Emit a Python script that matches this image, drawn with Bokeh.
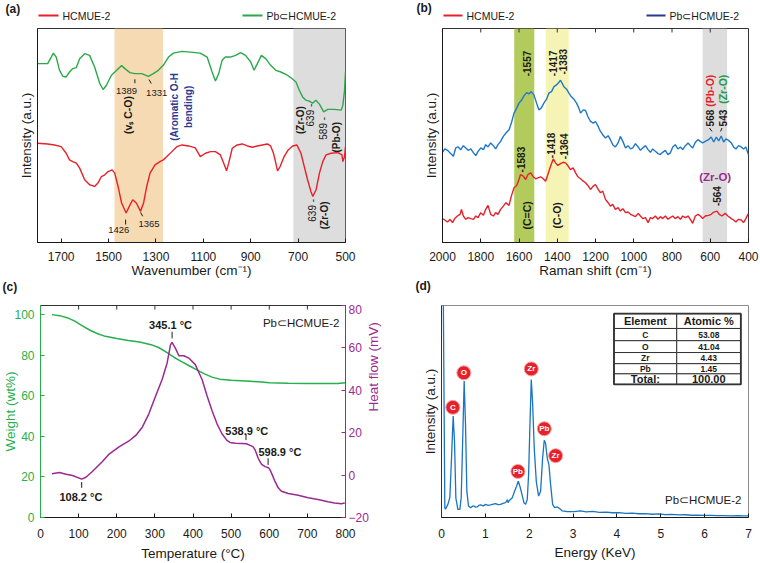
import math
import numpy as np
from bokeh.plotting import figure
from bokeh.layouts import column, row
from bokeh.models import (Range1d, LinearAxis, FixedTicker, Label, BoxAnnotation)
from bokeh.embed import file_html
from bokeh.resources import INLINE

FONT = "Liberation Sans"
INK = "#1a1a1a"
RED = "#e8202a"
GREEN_A = "#2ba84a"
GREEN_T = "#25b04c"
BLUE = "#1f78c8"
NAVY = "#2b3990"
PURPLE = "#9b2a90"
EDX_BLUE = "#1a74c2"
ZRO_GREEN = "#1a9a4a"

# ---------------------------------------------------------------- data
series_names = ["HCMUE-2", "Pb⊂HCMUE-2"]
panel_tags = ["(a)", "(b)", "(c)", "(d)"]

# (a) FTIR  (wavenumber, relative intensity)
ftir_hcmue = [(1800, 99.7), (1757, 99), (1728, 98), (1700, 96.3), (1679, 89.7), (1665, 83),
              (1651, 81.3), (1636, 79.7), (1622, 74.7), (1601, 63), (1580, 58), (1559, 56.3),
              (1545, 59.7), (1530, 66.3), (1516, 68), (1502, 71.3), (1485, 73), (1474, 69.7),
              (1460, 56.3), (1445, 39.7), (1426, 29.7), (1412, 36.5), (1398, 43), (1383, 39.7),
              (1365, 31.3), (1352, 40), (1339, 56.3), (1325, 69.7), (1304, 78), (1283, 81.3),
              (1269, 83), (1254, 86.3), (1233, 91.3), (1212, 96.3), (1190, 98), (1162, 97),
              (1134, 95), (1113, 86.3), (1091, 89.7), (1070, 91.3), (1049, 91.3), (1028, 88),
              (1014, 79.7), (1002, 72), (993, 79.7), (978, 94.7), (957, 98), (936, 99), (914, 97),
              (893, 95.7), (872, 97), (851, 98), (830, 99), (816, 97), (804, 89.7), (794, 79.7),
              (787, 72), (776, 76.3), (759, 86.3), (742, 93), (723, 97), (705, 98), (688, 89.7),
              (674, 76.3), (660, 63), (646, 51.3), (638, 46.3), (624, 53), (610, 69.7), (596, 81.3),
              (582, 88), (561, 89.7), (532, 90.3), (515, 88), (511, 81.3), (504, 86.3), (500, 96.3)]
ftir_pb = [(1800, 179.7), (1757, 179.7), (1742, 186.3), (1733, 190.3), (1721, 186.3), (1707, 173),
           (1693, 167), (1679, 166.3), (1665, 171.3), (1651, 174.7), (1636, 175.7), (1622, 184.7),
           (1601, 189.7), (1580, 188), (1559, 176.3), (1537, 159.7), (1523, 153.7), (1509, 158),
           (1488, 168), (1466, 173), (1445, 177.7), (1431, 174.7), (1410, 170.7), (1389, 169.7),
           (1360, 169.7), (1332, 167), (1311, 169.7), (1290, 173), (1269, 178), (1247, 186.3),
           (1226, 190.3), (1190, 192), (1155, 191.3), (1113, 190.3), (1084, 186.3), (1063, 171.3),
           (1049, 162.3), (1035, 169.7), (1021, 183), (1007, 186.3), (985, 186.3), (964, 188),
           (943, 190.7), (922, 188), (900, 181.3), (886, 173), (872, 179.7), (855, 188),
           (837, 184.7), (816, 178), (794, 173), (773, 171.3), (752, 169), (731, 165.7),
           (709, 161.3), (695, 153), (681, 146.3), (667, 143), (653, 142), (639, 140), (625, 143),
           (610, 139), (592, 131.3), (575, 133.7), (547, 133.7), (518, 133), (511, 138),
           (504, 153), (500, 171.3)]
ftir_bands = [(1475, 1270), (720, 500)]
ftir_ticks = [1700, 1500, 1300, 1100, 900, 700, 500]

# (b) Raman
raman_hcmue = [(2000, 24), (1988, 22.6), (1974, 20.6), (1960, 23.3), (1948, 20), (1936, 24),
               (1922, 26.6), (1908, 28.3), (1901, 33.3), (1891, 26.6), (1878, 23.3), (1866, 25),
               (1852, 24), (1838, 23.3), (1826, 26.6), (1814, 25), (1800, 30), (1786, 27.3),
               (1774, 33.3), (1762, 37.3), (1748, 28.3), (1734, 26.6), (1722, 30), (1710, 28.3),
               (1696, 33.3), (1682, 36.6), (1668, 40), (1652, 37.3), (1640, 46.6), (1626, 55),
               (1612, 57.3), (1600, 63.3), (1592, 68.3), (1578, 66.6), (1565, 63.3), (1553, 68.3),
               (1539, 70), (1525, 66), (1513, 64), (1501, 65), (1487, 66), (1473, 64),
               (1461, 61.6), (1449, 68.3), (1435, 76.6), (1421, 84), (1409, 80), (1397, 77.3),
               (1383, 79.3), (1369, 80.6), (1357, 80), (1345, 77.3), (1331, 73.3), (1317, 75),
               (1304, 70), (1292, 66), (1278, 64), (1264, 61.6), (1252, 60), (1240, 57.3),
               (1226, 53.3), (1212, 56.6), (1200, 58.3), (1186, 53.3), (1174, 50), (1162, 51.6),
               (1148, 43.3), (1134, 40), (1122, 36.6), (1110, 38.3), (1096, 33.3), (1082, 35),
               (1070, 31.6), (1057, 34), (1043, 30), (1030, 30.6), (1017, 28.3), (1005, 27.3),
               (991, 26), (977, 29.3), (965, 26.6), (953, 24), (939, 25), (925, 20), (913, 25),
               (901, 24), (887, 26.6), (873, 23.3), (861, 26), (849, 24), (835, 26.6), (821, 23.3),
               (809, 25), (796, 26.6), (783, 24), (769, 26), (756, 23.3), (744, 26.6), (730, 25),
               (716, 26.6), (704, 23.3), (692, 19.3), (678, 26.6), (664, 28.3), (652, 26.6),
               (640, 24), (626, 26.6), (609, 27.3), (595, 28.3), (581, 30.6), (565, 31.6),
               (553, 28.3), (539, 26.6), (522, 29.3), (508, 26.6), (490, 24), (478, 22.6),
               (466, 20.6), (452, 23.3), (438, 22.6), (426, 20), (414, 24), (403, 28.3), (400, 29)]
raman_pb = [(2000, 90.6), (1988, 94), (1974, 92.6), (1960, 90), (1943, 86.6), (1931, 95),
            (1918, 96), (1904, 93.3), (1891, 97.3), (1878, 95), (1866, 92.6), (1852, 94),
            (1838, 90), (1826, 87.3), (1814, 91.6), (1800, 95), (1786, 93.3), (1774, 98.3),
            (1762, 96), (1748, 100), (1734, 97.3), (1722, 94), (1710, 98.3), (1696, 101.6),
            (1682, 106.6), (1668, 110), (1652, 113.3), (1640, 120), (1626, 130), (1612, 135),
            (1600, 140), (1588, 142.6), (1574, 147.3), (1560, 150.6), (1548, 149.3), (1536, 151.6),
            (1522, 148.3), (1508, 140), (1496, 133.3), (1484, 135), (1470, 140), (1456, 144),
            (1444, 150), (1430, 151.6), (1417, 156.6), (1404, 158.3), (1391, 161), (1383, 163),
            (1365, 156.6), (1351, 154), (1339, 150), (1327, 146.6), (1313, 144), (1299, 140),
            (1287, 135), (1278, 130), (1264, 133.3), (1252, 132.6), (1240, 126.6), (1226, 121.6),
            (1212, 120), (1200, 121.6), (1186, 116.6), (1174, 111.6), (1162, 108.3), (1148, 105),
            (1134, 107.3), (1122, 103.3), (1110, 98.3), (1096, 96), (1082, 100), (1070, 106.6),
            (1057, 101.6), (1043, 95), (1030, 97.3), (1017, 94), (1005, 95), (991, 99.3),
            (977, 96), (965, 92.6), (953, 95), (939, 97.3), (925, 93.3), (913, 90.6), (901, 94),
            (887, 91.6), (873, 89.3), (861, 88.3), (849, 90.6), (835, 92.6), (821, 88.3),
            (809, 90), (796, 96), (783, 98.3), (769, 94), (756, 96), (744, 93.3), (730, 97.3),
            (716, 100), (704, 97.3), (692, 95), (678, 100.6), (664, 103.3), (652, 101.6),
            (640, 100), (626, 101.6), (609, 103.3), (595, 106), (582, 101), (568, 106),
            (556, 102), (543, 107), (530, 101), (518, 104), (504, 102.6), (490, 100), (478, 96),
            (466, 94), (452, 97.3), (438, 96), (426, 94), (414, 96), (403, 90), (400, 88)]
raman_bands = [(1625, 1520), (1460, 1340), (640, 512)]
raman_ticks = [2000, 1800, 1600, 1400, 1200, 1000, 800, 600, 400]

# (c) TGA / DSC
tga_weight = [(30, 100), (50, 99.5), (70, 98.5), (90, 96.8), (110, 94.5), (130, 92.3),
              (150, 90.6), (170, 89.3), (200, 88.2), (230, 87.3), (260, 86.5), (290, 85.2),
              (310, 83.8), (330, 81.5), (350, 79), (370, 76.8), (390, 74.8), (410, 72.8),
              (430, 70.8), (450, 69.2), (470, 68.2), (500, 67.6), (550, 67.1), (580, 66.8),
              (600, 66.4), (650, 66.2), (700, 66.1), (750, 66.0), (780, 66.0), (800, 66.4)]
dsc_heat = [(30, 0.6), (50, 1.2), (67, 0.4), (84, -0.2), (108, -1.9), (119, -1), (136, 1.7),
            (162, 6.3), (180, 9.9), (206, 13.3), (232, 16.1), (250, 18.7), (267, 22.6),
            (284, 28.8), (302, 37.3), (319, 45.1), (332, 52.8), (341, 61.4), (345, 62.6),
            (354, 59.8), (363, 56.3), (376, 56.3), (389, 55.2), (406, 52.1), (424, 45),
            (437, 37.3), (450, 30.4), (463, 24.2), (476, 19.5), (489, 16.4), (497, 15.4),
            (511, 15), (528, 14.9), (540, 14.8), (550, 14), (558, 13.3), (563, 11.8), (571, 7.9),
            (580, 5.1), (589, 4), (598, 3.5), (602, 2.5), (608, 0.1), (615, -3), (624, -6.1),
            (632, -7.6), (650, -8.7), (676, -9.5), (702, -10.7), (728, -11.5), (754, -12.6),
            (771, -13.2), (789, -13.5), (798, -13.2)]
dsc_events = [108.2, 345.1, 538.9, 598.9]
temp_ticks = [0, 100, 200, 300, 400, 500, 600, 700, 800]
weight_ticks = [0, 20, 40, 60, 80, 100]
heat_ticks = [-20, 0, 20, 40, 60, 80]

# (d) EDX
edx_counts = [(0.04, 230), (0.076, 10), (0.091, 8.3), (0.145, 13.3), (0.19, 20), (0.228, 60),
              (0.266, 103), (0.297, 76.7), (0.327, 20), (0.373, 8.3), (0.418, 8.3), (0.449, 20),
              (0.48, 73.3), (0.517, 138.3), (0.548, 93.3), (0.578, 26.7), (0.616, 11.7),
              (0.662, 10), (0.70, 11.2), (0.738, 11.7), (0.776, 10.5), (0.814, 10.7), (0.85, 12.2),
              (0.89, 12.7), (0.95, 11.8), (1.004, 13.3), (1.06, 12.4), (1.118, 12.7), (1.18, 13.6),
              (1.232, 14), (1.29, 13), (1.347, 13.3), (1.40, 14.4), (1.461, 15), (1.50, 18),
              (1.52, 15), (1.537, 16.7), (1.613, 20), (1.666, 26.7), (1.712, 31.7), (1.75, 36.7),
              (1.788, 31.7), (1.826, 25), (1.879, 15), (1.917, 13.3), (1.955, 18.3), (1.986, 43.3),
              (2.016, 93.3), (2.047, 140), (2.077, 116.7), (2.115, 70), (2.161, 36.7),
              (2.214, 21.7), (2.26, 26.7), (2.305, 60), (2.343, 78.3), (2.374, 75), (2.412, 60),
              (2.45, 53.3), (2.488, 33.3), (2.534, 13.3), (2.579, 10), (2.64, 10.7), (2.686, 9.3),
              (2.754, 6.7), (2.869, 6), (3.021, 6), (3.173, 6.7), (3.3, 5.8), (3.45, 6.2),
              (3.6, 5.2), (3.75, 5.5), (3.9, 4.8), (4.05, 5), (4.2, 4.2), (4.35, 4.5), (4.5, 3.8),
              (4.65, 4), (4.8, 3.3), (4.95, 3.6), (5.1, 3), (5.25, 3.2), (5.4, 2.6), (5.55, 2.8),
              (5.7, 2.3), (5.85, 2.5), (6.0, 2.1), (6.15, 2.2), (6.3, 1.9), (6.45, 2.0),
              (6.6, 1.7), (6.75, 1.8), (6.9, 1.6), (7.0, 1.7)]
edx_peak_names = ["C", "O", "Zr", "Pb", "Zr", "Pb"]
edx_peak_marks = [(0.258, 111.7), (0.509, 146.7), (2.047, 150.7), (2.344, 90), (2.602, 62.7),
                  (1.742, 46.7)]
energy_ticks = [0, 1, 2, 3, 4, 5, 6, 7]
table_header = ["Element", "Atomic %"]
table_elements = ["C", "O", "Zr", "Pb"]
table_atomic = ["53.08", "41.04", "4.43", "1.45"]
table_total = ["Total:", "100.00"]


def xs(pairs):
    return [p[0] for p in pairs]


def ys(pairs):
    return [p[1] for p in pairs]


# ---------------------------------------------------------------- helpers
def make_fig(w, h, xr, yr, bl, br, bt, bb, outline="#333333"):
    p = figure(width=w, height=h, x_range=xr, y_range=yr, output_backend="svg",
               toolbar_location=None, min_border_left=bl, min_border_right=br,
               min_border_top=bt, min_border_bottom=bb)
    p.grid.visible = False
    p.outline_line_color = outline
    p.outline_line_width = 1
    p.outline_line_alpha = 1
    return p


def make_strip(w, h):
    s = figure(width=w, height=h, x_range=Range1d(0, w), y_range=Range1d(0, h),
               output_backend="svg", toolbar_location=None, min_border=0,
               x_axis_type=None, y_axis_type=None)
    s.grid.visible = False
    s.outline_line_color = None
    return s


def style_axis(ax, ticks, label, color=INK, tick_in=4, label_standoff=8,
               title_standoff=0, title_size="13.5px", tick_size="12px"):
    ax.ticker = FixedTicker(ticks=ticks)
    ax.axis_label = label
    ax.axis_label_text_font = FONT
    ax.axis_label_text_font_size = title_size
    ax.axis_label_text_font_style = "normal"
    ax.axis_label_text_color = color
    ax.axis_label_standoff = title_standoff
    ax.major_label_text_font = FONT
    ax.major_label_text_font_size = tick_size
    ax.major_label_text_color = color
    ax.major_label_standoff = label_standoff
    ax.axis_line_color = color
    ax.major_tick_line_color = color
    ax.major_tick_in = tick_in
    ax.major_tick_out = 0
    ax.minor_tick_line_color = None


def lab(p, x, y, text, size="9.5px", bold=False, angle=0.0, color=INK, align="center",
        y_range_name="default"):
    p.add_layout(Label(x=x, y=y, text=text,
                       text_font=FONT, text_font_size=size,
                       text_font_style="bold" if bold else "normal",
                       text_color=color, text_align=align, text_baseline="middle",
                       angle=angle, y_range_name=y_range_name))


def header(s, tag, tag_x, tag_y, legend=None):
    lab(s, tag_x, tag_y, tag, size="12px", bold=True, align="left")
    if legend:
        for (x0, x1, y, color, name) in legend:
            s.segment(x0=[x0], x1=[x1], y0=[y], y1=[y], line_color=color, line_width=2)
            lab(s, x1 + 4, y, name, size="10.5px", align="left")


UP = math.pi / 2

# ---------------------------------------------------------------- header strips
sa = make_strip(380, 27)
header(sa, panel_tags[0], 5, 19, [(38, 58, 12, RED, series_names[0]),
                                  (242, 262, 12, GREEN_A, series_names[1])])
sb = make_strip(380, 27)
header(sb, panel_tags[1], 36, 20, [(63, 82, 12, RED, series_names[0]),
                                   (266, 285, 12, NAVY, series_names[1])])
sc = make_strip(393, 24)
header(sc, panel_tags[2], 2, 17.3)
sd = make_strip(367, 24)
header(sd, panel_tags[3], 22, 19)

# ---------------------------------------------------------------- (a) FTIR
pa = make_fig(380, 253, Range1d(1800, 500), Range1d(0, 215), 37, 35, 1, 37)
for (l, r), c in zip(ftir_bands, ["#f6dab3", "#dddddd"]):
    pa.add_layout(BoxAnnotation(left=l, right=r, fill_color=c, fill_alpha=1,
                                line_color=None, level="underlay"))
pa.line(xs(ftir_hcmue), ys(ftir_hcmue), line_color=RED, line_width=1.4)
pa.line(xs(ftir_pb), ys(ftir_pb), line_color=GREEN_A, line_width=1.4)
style_axis(pa.xaxis[0], ftir_ticks, "Wavenumber (cm⁻¹)", label_standoff=9, title_standoff=-1)
style_axis(pa.yaxis[0], [], "Intensity (a.u.)", label_standoff=0, title_standoff=4)
lab(pa, 1424, 152.3, "1389")
lab(pa, 1297, 149.7, "1331")
lab(pa, 1457, 12.3, "1426")
lab(pa, 1329, 19, "1365")
pa.segment(x0=[1389, 1329, 1428, 1365], y0=[160, 163.7, 18, 30.3],
           x1=[1389, 1320, 1428, 1356], y1=[164, 159.7, 23, 26.3], line_color=INK, line_width=1)
lab(pa, 1417, 128, "(vₛ C-O)", size="10.5px", bold=True, angle=UP)
lab(pa, 1192, 136.3, "(Aromatic O-H\nbending)", size="10px", bold=True, angle=UP, color=NAVY)
lab(pa, 688, 123, "(Zr-O)", size="10px", bold=True, angle=UP)
lab(pa, 646, 128, "639 -", size="10px", angle=UP)
lab(pa, 592, 114.7, "589 -", size="10px", angle=UP)
lab(pa, 539, 105.7, "(Pb-O)", size="10px", bold=True, angle=UP)
lab(pa, 638, 32.3, "639 -", size="10px", angle=UP)
lab(pa, 589, 27.3, "(Zr-O)", size="10px", bold=True, angle=UP)

# ---------------------------------------------------------------- (b) Raman
pb = make_fig(380, 253, Range1d(2000, 400), Range1d(0, 215), 62, 12, 1, 37)
for (l, r), c in zip(raman_bands, ["#b3cb5c", "#f6f4b4", "#dddddd"]):
    pb.add_layout(BoxAnnotation(left=l, right=r, fill_color=c, fill_alpha=1,
                                line_color=None, level="underlay"))
pb.line(xs(raman_hcmue), ys(raman_hcmue), line_color=RED, line_width=1.4)
pb.line(xs(raman_pb), ys(raman_pb), line_color=BLUE, line_width=1.4)
style_axis(pb.xaxis[0], raman_ticks, "Raman shift (cm⁻¹)", label_standoff=9, title_standoff=-1)
style_axis(pb.yaxis[0], [], "Intensity (a.u.)", label_standoff=0, title_standoff=4)
pb.segment(x0=raman_ticks, x1=raman_ticks, y0=[215] * len(raman_ticks),
           y1=[211] * len(raman_ticks), line_color="#333333", line_width=1)
for x, y, t in [(1556, 179.8, "-1557"), (1421, 180, "-1417"), (1369, 181.6, "-1383"),
                (1591, 83.3, "-1583"), (1431, 97.6, "-1418"), (1365, 96.6, "-1364"),
                (565, 46.6, "-564"), (600, 125, "568"), (535, 125, "543")]:
    lab(pb, x, y, t, size="10px", bold=True, angle=UP)
lab(pb, 1560, 27.3, "(C=C)", size="10.5px", bold=True, angle=UP)
lab(pb, 1400, 27.3, "(C-O)", size="10.5px", bold=True, angle=UP)
lab(pb, 600, 152.5, "(Pb-O)", size="10.5px", bold=True, angle=UP, color=RED)
lab(pb, 533, 154, "(Zr-O)", size="10.5px", bold=True, angle=UP, color=ZRO_GREEN)
lab(pb, 574, 66, "(Zr-O)", size="11.5px", bold=True, color=PURPLE)
pb.segment(x0=[604, 539], y0=[115, 115], x1=[591, 546], y1=[111.6, 111.6],
           line_color=INK, line_width=1)

# ---------------------------------------------------------------- (c) TGA/DSC
pc = make_fig(393, 259, Range1d(0, 800), Range1d(0, 104.5), 38, 48, 1, 43)
pc.extra_y_ranges = {"heat": Range1d(-20, 80)}
pc.line(xs(tga_weight), ys(tga_weight), line_color=GREEN_T, line_width=1.5)
pc.line(xs(dsc_heat), ys(dsc_heat), line_color=PURPLE, line_width=1.5, y_range_name="heat")
style_axis(pc.xaxis[0], temp_ticks, "Temperature (°C)", label_standoff=11, title_standoff=5)
style_axis(pc.yaxis[0], weight_ticks, "Weight (wt%)", color=GREEN_T, label_standoff=6,
           title_standoff=-7)
ra = LinearAxis(y_range_name="heat")
pc.add_layout(ra, "right")
style_axis(ra, heat_ticks, "Heat flow (mV)", color=PURPLE, label_standoff=3, title_standoff=2)
ra.axis_label_orientation = math.pi / 2
pc.segment(x0=temp_ticks, x1=temp_ticks, y0=[104.5] * len(temp_ticks),
           y1=[102.5] * len(temp_ticks), line_color="#333333", line_width=1)
lab(pc, 784, 71.8, "Pb⊂HCMUE-2", size="11.5px", align="right", y_range_name="heat")
for t, (x, y) in zip(dsc_events, [(106, -10.4), (341, 70.7), (541, 21), (628, 10.7)]):
    lab(pc, x, y, f"{t} °C", size="11px", bold=True, y_range_name="heat")
pc.segment(x0=[108, 345.2, 539, 597], y0=[-6, 64.5, 16.5, 4.8],
           x1=[108, 345.2, 539, 597], y1=[-3.3, 67.6, 19.5, 7.9],
           line_color=INK, line_width=1, y_range_name="heat")

# ---------------------------------------------------------------- (d) EDX
pd_ = make_fig(367, 259, Range1d(0, 7), Range1d(0, 215), 48, 12, 1, 43, outline="#8c8c8c")
pd_.line(xs(edx_counts), ys(edx_counts), line_color=EDX_BLUE, line_width=1.3)
style_axis(pd_.xaxis[0], energy_ticks, "Energy (KeV)", label_standoff=11, title_standoff=4)
style_axis(pd_.yaxis[0], [], "Intensity (a.u.)", label_standoff=0, title_standoff=4)
pd_.yaxis[0].axis_line_color = "#333333"
pd_.scatter(xs(edx_peak_marks), ys(edx_peak_marks), size=14, marker="circle",
            fill_color=RED, line_color="#f4a0a0", line_width=1)
for (x, y), name in zip(edx_peak_marks, edx_peak_names):
    lab(pd_, x, y, name, size="8px", bold=True, color="white")
lab(pd_, 6.84, 17.3, "Pb⊂HCMUE-2", size="11.5px", align="right")

# table of atomic percentages
t_left, t_mid, t_right = 3.933, 5.364, 6.825
row_edges = [206.7, 191.7, 179.3, 167.3, 156.0, 145.7, 135.0]
for i in range(6):
    pd_.quad(left=[t_left, t_mid], right=[t_mid, t_right], top=[row_edges[i]] * 2,
             bottom=[row_edges[i + 1]] * 2, fill_color="white", line_color="#333333",
             line_width=1)
pd_.quad(left=[t_left], right=[t_right], top=[row_edges[0]], bottom=[row_edges[-1]],
         fill_color=None, line_color="#333333", line_width=1.8)
cx = [(t_left + t_mid) / 2, (t_mid + t_right) / 2]
rows_text = [table_header] + [[e, a] for e, a in zip(table_elements, table_atomic)] + [table_total]
for i, cells in enumerate(rows_text):
    yc = (row_edges[i] + row_edges[i + 1]) / 2
    big = i == 0 or i == len(rows_text) - 1
    for xcen, t in zip(cx, cells):
        lab(pd_, xcen, yc, t, size="11px" if big else "8.5px", bold=True)

layout = column(row(sa, sb), row(pa, pb), row(sc, sd), row(pc, pd_))
open("out.html", "w").write(file_html(layout, INLINE, title="Pb in HCMUE-2"))
